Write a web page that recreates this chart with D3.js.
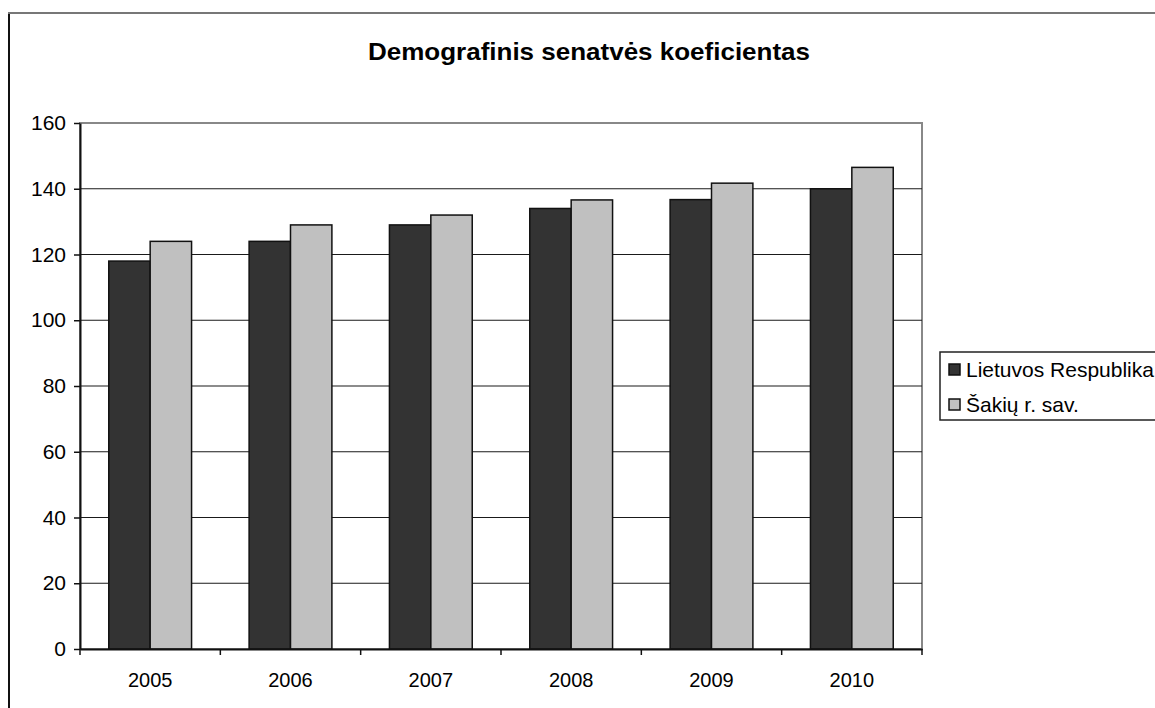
<!DOCTYPE html>
<html>
<head>
<meta charset="utf-8">
<script src="https://cdn.jsdelivr.net/npm/d3@7"></script>
<style>
  body { margin: 0; background: #fff; }
  svg { display: block; }
  text { font-family: "Liberation Sans", Arial, sans-serif; fill: #000; }
</style>
</head>
<body>
<div class="chart"></div>
<script>
// data
const years = ["2005", "2006", "2007", "2008", "2009", "2010"];
const seriesNames = ["Lietuvos Respublika", "Šakių r. sav."];
const lietuva = [118, 124, 129, 134, 136.7, 140];
const sakiai = [124, 129, 132, 136.6, 141.7, 146.5];
const yTicks = [0, 20, 40, 60, 80, 100, 120, 140, 160];
const colors = ["#333333", "#c0c0c0"];
const title = "Demografinis senatvės koeficientas";

const width = 1155, height = 708;
const margin = { top: 123, right: 233, bottom: 59, left: 80 };

const data = years.map((y, i) => ({ year: y, values: [lietuva[i], sakiai[i]] }));

const svg = d3.select(".chart").append("svg")
    .attr("width", width)
    .attr("height", height);

// outer frame (only left and top visible)
svg.append("line").attr("x1", 9).attr("x2", 9).attr("y1", 12).attr("y2", height + 5)
    .attr("stroke", "#111").attr("stroke-width", 2);
svg.append("line").attr("x1", 8).attr("x2", width + 5).attr("y1", 13).attr("y2", 13)
    .attr("stroke", "#777").attr("stroke-width", 2);

svg.append("text")
    .attr("x", 589).attr("y", 60)
    .attr("text-anchor", "middle")
    .attr("font-size", 24)
    .attr("font-weight", "bold")
    .attr("textLength", 442)
    .attr("lengthAdjust", "spacingAndGlyphs")
    .text(title);

const x = d3.scaleBand()
    .domain(years)
    .range([margin.left, width - margin.right]);

const x0 = d3.scaleBand()
    .domain(years)
    .range([margin.left, width - margin.right])
    .paddingInner(0.41)
    .paddingOuter(0.205);

const x1 = d3.scaleBand()
    .domain([0, 1])
    .range([0, x0.bandwidth()]);

const y = d3.scaleLinear()
    .domain([0, 160])
    .range([height - margin.bottom, margin.top]);

// plot area border
svg.append("rect")
    .attr("x", margin.left).attr("y", margin.top)
    .attr("width", width - margin.right - margin.left)
    .attr("height", y(0) - margin.top)
    .attr("fill", "none")
    .attr("stroke", "#888")
    .attr("stroke-width", 2);

// gridlines
svg.append("g")
    .selectAll("line")
    .data(yTicks.filter(d => d > 0 && d < 160))
    .join("line")
    .attr("x1", margin.left).attr("x2", width - margin.right)
    .attr("y1", d => y(d)).attr("y2", d => y(d))
    .attr("stroke", "#1a1a1a")
    .attr("stroke-width", 1.2);

// bars
svg.append("g")
    .selectAll("g")
    .data(data)
    .join("g")
    .attr("transform", d => `translate(${x0(d.year)},0)`)
    .selectAll("rect")
    .data(d => d.values.map((v, i) => ({ i, v })))
    .join("rect")
    .attr("x", d => x1(d.i))
    .attr("y", d => y(d.v))
    .attr("width", x1.bandwidth())
    .attr("height", d => y(0) - y(d.v))
    .attr("fill", d => colors[d.i])
    .attr("stroke", "#111")
    .attr("stroke-width", 1.5);

// y axis
svg.append("g")
    .attr("transform", `translate(${margin.left},0)`)
    .call(d3.axisLeft(y).tickValues(yTicks).tickSize(6).tickPadding(8).tickSizeOuter(0))
    .call(g => g.select(".domain").attr("stroke", "#111").attr("stroke-width", 2))
    .call(g => g.selectAll(".tick line").attr("stroke", "#111").attr("stroke-width", 1.5))
    .call(g => g.selectAll(".tick text").attr("font-size", 21).attr("fill", "#000")
        .style("font-family", "'Liberation Sans', Arial, sans-serif"));

// x axis
svg.append("g")
    .attr("transform", `translate(0,${y(0)})`)
    .call(d3.axisBottom(x).tickSize(0).tickPadding(24).tickSizeOuter(0))
    .call(g => g.select(".domain").attr("stroke", "#111").attr("stroke-width", 2))
    .call(g => g.selectAll(".tick text").attr("font-size", 20).attr("fill", "#000")
        .style("font-family", "'Liberation Sans', Arial, sans-serif"));

svg.append("g")
    .selectAll("line")
    .data(years.map(d => x(d)).concat([width - margin.right]))
    .join("line")
    .attr("x1", d => d).attr("x2", d => d)
    .attr("y1", y(0)).attr("y2", y(0) + 6)
    .attr("stroke", "#111")
    .attr("stroke-width", 1.5);

// legend
const legend = svg.append("g").attr("transform", "translate(940,352)");
legend.append("rect")
    .attr("width", 230).attr("height", 68)
    .attr("fill", "#fff")
    .attr("stroke", "#222")
    .attr("stroke-width", 1.5);

const item = legend.selectAll("g.item")
    .data(seriesNames)
    .join("g")
    .attr("class", "item")
    .attr("transform", (d, i) => `translate(0,${12 + i * 35})`);

item.append("rect")
    .attr("x", 9).attr("y", 0)
    .attr("width", 11).attr("height", 11)
    .attr("fill", (d, i) => colors[i])
    .attr("stroke", "#111")
    .attr("stroke-width", 1.5);

item.append("text")
    .attr("x", 26).attr("y", 13)
    .attr("font-size", 21)
    .text(d => d);
</script>
</body>
</html>
